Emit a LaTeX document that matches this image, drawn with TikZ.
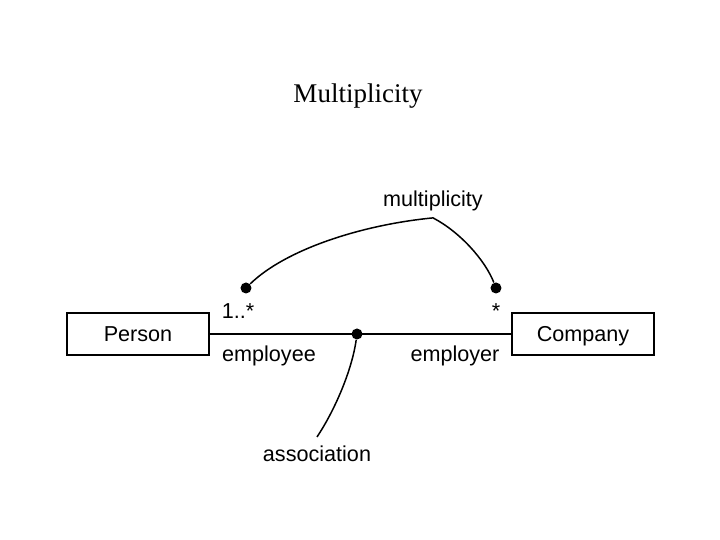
\documentclass[tikz,border=0pt]{standalone}
\usepackage{fontspec}
\setmainfont{Liberation Serif}
\setsansfont{Liberation Sans}
\usetikzlibrary{positioning}

\begin{document}
\begin{tikzpicture}[x=0.5pt, y=-0.5pt,
        cls/.style={draw, line width=0.8pt, minimum width=71pt, minimum height=21pt, text height=8pt, text depth=0pt, font=\sffamily\fontsize{10.8}{12}\selectfont},
        lbl/.style={anchor=base, inner sep=0pt, font=\sffamily\fontsize{10.8}{12}\selectfont},
        dot/.style={circle, fill, inner sep=0pt, minimum size=5.5pt},
        conn/.style={line width=0.75pt}
    ]
        \useasboundingbox (0,0) rectangle (720,540);
        \node[anchor=base, inner sep=0pt, font=\fontsize{13.5}{16}\selectfont] (title) at (358,103) {Multiplicity};

        % classes and the association between them
        \node[cls] (person) at (138,334) {Person};
        \node[cls] (company) at (583,334) {Company};
        \draw[line width=0.9pt] (person.east) -- (company.west);

        % ends of the association
        \node[lbl] (mlow) at (238,319) {1..*};
        \node[lbl] (mhigh) at (496,319) {*};
        \node[lbl] (emp) at (269,362) {employee};
        \node[lbl] (empr) at (455,362) {employer};

        % dots and their labels
        \node[dot] (dlow) at (246,288) {};
        \node[dot] (dhigh) at (496,288) {};
        \node[dot] (dassoc) at (357,334) {};
        \node[lbl] (mult) at (433,207) {multiplicity};
        \node[lbl] (assoc) at (317,462) {association};
        \coordinate (mtip) at ([yshift=-3pt]mult.south);
        \coordinate (atip) at ([yshift=4.5pt]assoc.north);

        \draw[conn] (dlow) .. controls (285,250) and (360,225) .. (mtip)
            .. controls (460,232) and (485,260) .. (dhigh);
        \draw[conn] (dassoc) .. controls (352,370) and (335,410) .. (atip);
    \end{tikzpicture}
\end{document}
